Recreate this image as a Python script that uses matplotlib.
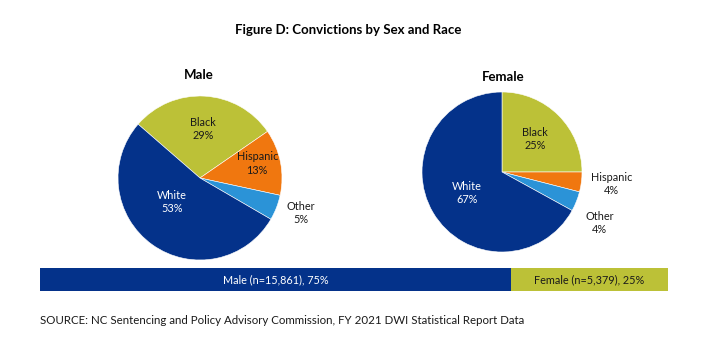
import numpy as np
import matplotlib
matplotlib.use("Agg")
import matplotlib.pyplot as plt

plt.rcParams['font.family'] = ['Lato', 'DejaVu Sans']

# ---- data ----
title = "Figure D: Convictions by Sex and Race"
races_male = ["Black", "Hispanic", "Other", "White"]
male_pct = [29, 13, 5, 53]
races_female = ["Black", "Hispanic", "Other", "White"]
female_pct = [25, 4, 4, 67]
sex_labels = ["Male (n=15,861), 75%", "Female (n=5,379), 25%"]
sex_pct = [75, 25]
source = "SOURCE: NC Sentencing and Policy Advisory Commission, FY 2021 DWI Statistical Report Data"

# ---- style ----
colors = {"Black": "#BCC137", "Hispanic": "#F0770F", "Other": "#2B93D7", "White": "#04328A"}
text_col = {"Black": "#1a1a1a", "Hispanic": "#1a1a1a", "Other": "#1a1a1a", "White": "white"}

W, H = 725, 339
fig = plt.figure(figsize=(W / 100, H / 100), dpi=100)
fig.patch.set_facecolor("white")


def px_axes(cx, cy, r):
    return fig.add_axes([(cx - r) / W, 1 - (cy + r) / H, 2 * r / W, 2 * r / H])


def draw_pie(ax, labels, vals, start, dists, angoff):
    wedges, _ = ax.pie(vals, colors=[colors[l] for l in labels], startangle=start,
                       counterclock=False, radius=1,
                       wedgeprops=dict(edgecolor="white", linewidth=0.4))
    for w, lab, v, d, ao in zip(wedges, labels, vals, dists, angoff):
        mid = np.deg2rad((w.theta1 + w.theta2) / 2 + ao)
        x, y = d * np.cos(mid), d * np.sin(mid)
        col = text_col[lab] if d < 1 else "#1a1a1a"
        ax.text(x, y, f"{lab}\n{v}%", ha="center", va="center", fontsize=7.8,
                color=col, linespacing=1.25)
    ax.set_xlim(-1, 1)
    ax.set_ylim(-1, 1)
    ax.set_aspect("equal")
    ax.axis("off")


ax_m = px_axes(200, 178, 82)
draw_pie(ax_m, races_male, male_pct, 139, [0.6, 0.72, 1.3, 0.45], [0, 3, 2, -14])
ax_f = px_axes(502, 172, 80)
draw_pie(ax_f, races_female, female_pct, 90, [0.58, 1.38, 1.38, 0.51], [0, 1, -6, 0])

fig.text(348 / W, 1 - 30 / H, title, ha="center", va="center", fontsize=9.5, fontweight="bold")
fig.text(199 / W, 1 - 75 / H, "Male", ha="center", va="center", fontsize=9.5, fontweight="bold")
fig.text(503 / W, 1 - 77 / H, "Female", ha="center", va="center", fontsize=9.5, fontweight="bold")

# stacked bar
ax_b = fig.add_axes([40 / W, 1 - 291 / H, (668 - 40) / W, 23 / H])
left = 0
bar_cols = [colors["White"], colors["Black"]]
txt_cols = ["white", "#1a1a1a"]
for lab, v, c, tc in zip(sex_labels, sex_pct, bar_cols, txt_cols):
    ax_b.barh(0, v, left=left, color=c, height=1, edgecolor="none")
    ax_b.text(left + v / 2, 0, lab, ha="center", va="center", fontsize=7.8, color=tc)
    left += v
ax_b.set_xlim(0, 100)
ax_b.set_ylim(-0.5, 0.5)
ax_b.axis("off")

fig.text(40 / W, 1 - 321 / H, source, ha="left", va="center", fontsize=8.3, color="#1a1a1a")

fig.savefig("out.png", dpi=100, facecolor="white")
